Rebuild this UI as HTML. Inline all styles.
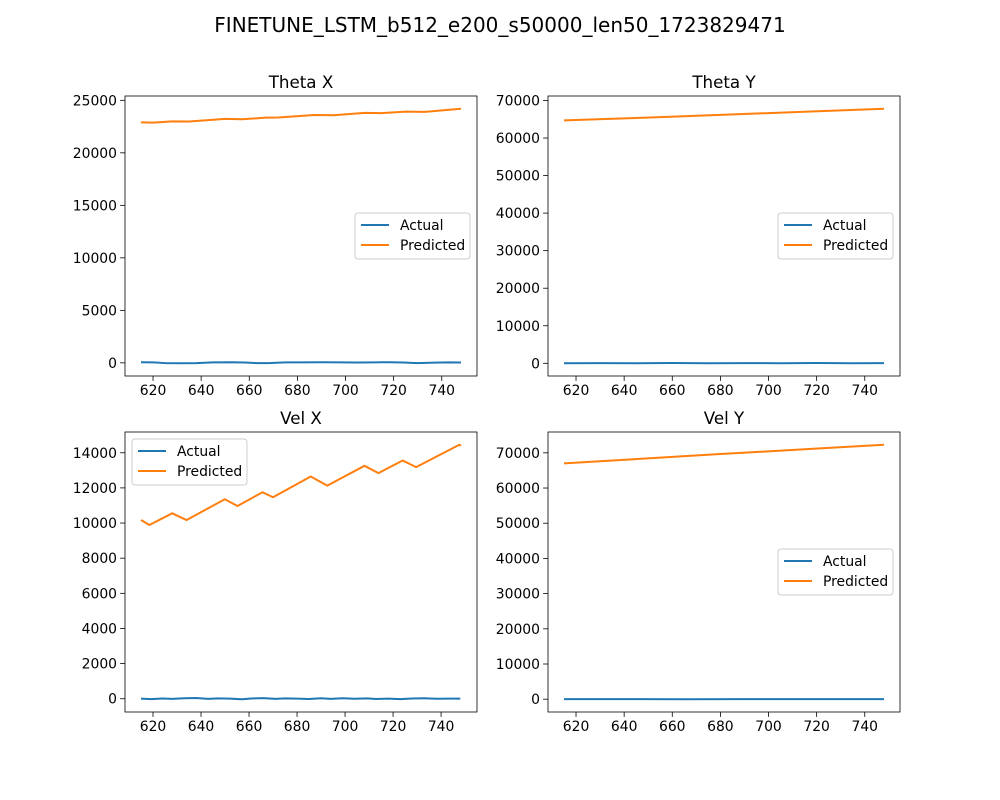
<!DOCTYPE html>
<html><head><meta charset="utf-8"><style>
body{margin:0;background:#fff}
svg{display:block;font-family:"DejaVu Sans","Liberation Sans",sans-serif}
</style></head><body>
<svg id="fig" width="1000" height="800" viewBox="0 0 1000 800">
<text x="500" y="32" font-size="20" text-anchor="middle">FINETUNE_LSTM_b512_e200_s50000_len50_1723829471</text>
</svg>
<script>
// ---- data ----
const xTicks = [620,640,660,680,700,720,740];
const thetaXActualX = [615,620,625,632,638,645,652,658,663,668,675,682,690,698,705,712,718,724,730,737,743,748];
const thetaXActualY = [60,50,-20,-40,-30,40,60,30,-20,-30,40,50,60,40,30,50,60,30,-30,20,40,30];
const thetaXPredX = [615,620,628,635,645,650,657,667,672,687,695,708,715,725,733,748];
const thetaXPredY = [22900,22880,23000,22980,23150,23230,23200,23350,23360,23600,23580,23800,23780,23920,23900,24200];
const thetaYActualX = [615,630,645,660,675,690,705,720,735,748];
const thetaYActualY = [20,60,10,70,20,60,30,70,20,40];
const thetaYPredX = [615,648,680,715,748];
const thetaYPredY = [64700,65400,66150,67000,67800];
const velXActualX = [615,619,624,628,633,638,643,647,652,657,661,666,671,675,680,685,690,694,699,704,709,713,718,723,728,733,738,743,748];
const velXActualY = [10,-20,15,-5,25,40,-10,20,5,-30,15,35,-5,20,10,-15,25,-5,30,0,20,-15,10,-25,15,30,0,10,5];
const velXPredX = [615,618.5,628,634,649.9,655.2,665.6,670,685.7,692.6,708.1,713.9,724,729.6,747.6,748.3];
const velXPredY = [10171,9886,10554,10171,11354,10971,11754,11468,12646,12131,13257,12840,13560,13182,14457,14400];
const velYActualX = [615,640,665,690,715,748];
const velYActualY = [10,20,-20,30,10,20];
const velYPredX = [615,648,680,715,748];
const velYPredY = [67000,68350,69650,71000,72300];
const thetaXYTicks = [0,5000,10000,15000,20000,25000];
const thetaYYTicks = [0,10000,20000,30000,40000,50000,60000,70000];
const velXYTicks = [0,2000,4000,6000,8000,10000,12000,14000];
const velYYTicks = [0,10000,20000,30000,40000,50000,60000,70000];

const NS="http://www.w3.org/2000/svg";
const svg=document.getElementById('fig');
function mk(tag,attrs,parent){const e=document.createElementNS(NS,tag);for(const k in attrs)e.setAttribute(k,attrs[k]);(parent||svg).appendChild(e);return e;}

function panel(key,title,L,T,yTicks,ax,ay,px,py,legend){
  const W=352,H=280;
  const g=mk('g',{});
  
  
  const allX=ax.concat(px), allY=ay.concat(py);
  let x0=Math.min(...allX),x1=Math.max(...allX),y0=Math.min(...allY),y1=Math.max(...allY);
  const dx=(x1-x0)*0.05,dy=(y1-y0)*0.05;x0-=dx;x1+=dx;y0-=dy;y1+=dy;
  const sx=v=>L+(v-x0)/(x1-x0)*W, sy=v=>T+H-(v-y0)/(y1-y0)*H;
  const t=mk('text',{x:L+W/2,y:T-8,'font-size':16.7,'text-anchor':'middle'},g);t.textContent=title;
  
  
  xTicks.forEach(v=>{const x=sx(v);
    mk('line',{x1:x,x2:x,y1:T+H,y2:T+H+4.9,stroke:'#000','stroke-width':0.8},g);
    const tx=mk('text',{x:x,y:T+H+19,'font-size':13.9,'text-anchor':'middle'},g);tx.textContent=v;
    
    });
  yTicks.forEach(v=>{const y=sy(v);
    mk('line',{x1:L-4.9,x2:L,y1:y,y2:y,stroke:'#000','stroke-width':0.8},g);
    const ty=mk('text',{x:L-8,y:y+5,'font-size':13.9,'text-anchor':'end'},g);ty.textContent=v;
    
    });
  const line=(xs,ys,c,n)=>{const p=mk('polyline',{points:xs.map((v,i)=>sx(v)+','+sy(ys[i])).join(' '),fill:'none',stroke:c,'stroke-width':2,'stroke-linejoin':'round'},g);
    
    };
  line(ax,ay,'#1f77b4',key+'-actual-line');
  line(px,py,'#ff7f0e',key+'-predicted-line');
  const fr=mk('rect',{x:L,y:T,width:W,height:H,fill:'none',stroke:'#000','stroke-width':0.8},g);
  
  
  const lg=mk('g',{},g);
  
  
  const [lx,ly]=legend;
  mk('rect',{x:lx,y:ly,width:115,height:46,rx:3,fill:'#fff','fill-opacity':0.8,stroke:'#ccc','stroke-width':1},lg);
  [['Actual','#1f77b4'],['Predicted','#ff7f0e']].forEach((e,i)=>{
    const yy=ly+12+i*20;
    mk('line',{x1:lx+6,x2:lx+34,y1:yy,y2:yy,stroke:e[1],'stroke-width':2},lg);
    const tt=mk('text',{x:lx+45,y:yy+5,'font-size':13.9},lg);tt.textContent=e[0];
    
    
  });
}
panel('theta-x','Theta X',125,96,thetaXYTicks,thetaXActualX,thetaXActualY,thetaXPredX,thetaXPredY,[355,213]);
panel('theta-y','Theta Y',548,96,thetaYYTicks,thetaYActualX,thetaYActualY,thetaYPredX,thetaYPredY,[778,213]);
panel('vel-x','Vel X',125,432,velXYTicks,velXActualX,velXActualY,velXPredX,velXPredY,[132,439]);
panel('vel-y','Vel Y',548,432,velYYTicks,velYActualX,velYActualY,velYPredX,velYPredY,[778,549]);
</script>
</body></html>
